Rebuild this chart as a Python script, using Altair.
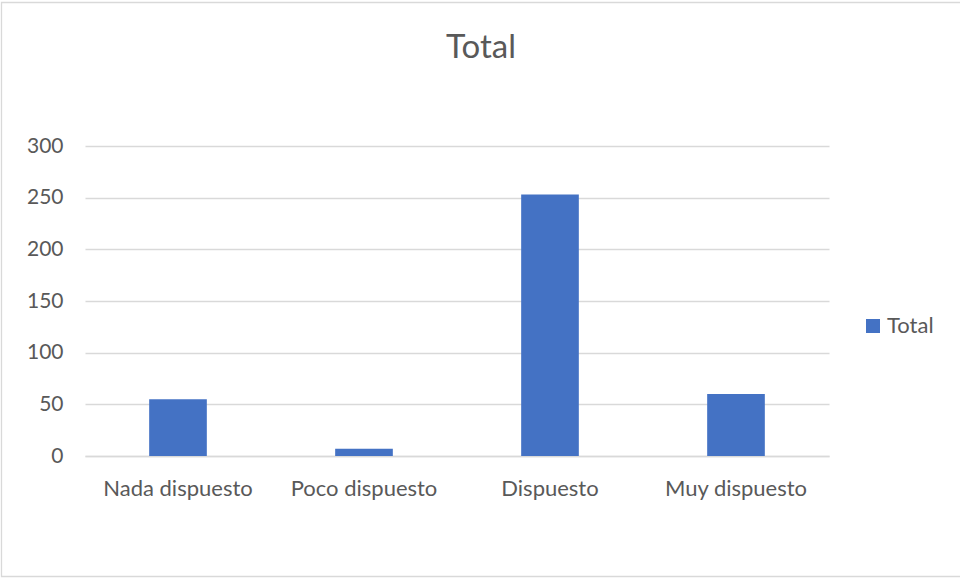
import altair as alt
import pandas as pd

# Willingness categories and their totals
categories = ["Nada dispuesto", "Poco dispuesto", "Dispuesto", "Muy dispuesto"]
totals = [55, 7, 253, 60]
series_name = "Total"
chart_title = "Total"
y_ticks = [0, 50, 100, 150, 200, 250, 300]

BAR = "#4472C4"
GRID = "#D9D9D9"
TEXT = "#595959"
FONT = "Lato"

df = pd.DataFrame({"cat": categories, "value": totals, "serie": [series_name] * len(categories)})

W, H = 744, 310
PAD_L, PAD_T = 85, 146

bars = alt.Chart(df).mark_bar(color=BAR).encode(
    x=alt.X(
        "cat:N",
        sort=categories,
        title=None,
        scale=alt.Scale(paddingInner=0.69, paddingOuter=0.345),
        axis=alt.Axis(
            labelAngle=0,
            labelFontSize=22,
            labelColor=TEXT,
            labelFont=FONT,
            labelPadding=22,
            ticks=False,
            domainColor=GRID,
            domainWidth=1.3,
            grid=False,
        ),
    ),
    y=alt.Y(
        "value:Q",
        title=None,
        scale=alt.Scale(domain=[0, 300], nice=False),
        axis=alt.Axis(
            values=y_ticks,
            labelFontSize=21,
            labelColor=TEXT,
            labelFont=FONT,
            labelPadding=22,
            ticks=False,
            domain=False,
            gridColor=GRID,
            gridWidth=1.3,
        ),
    ),
    color=alt.Color(
        "serie:N",
        scale=alt.Scale(range=[BAR]),
        legend=alt.Legend(
            title=None,
            orient="none",
            legendX=777,
            legendY=169,
            symbolType="square",
            symbolSize=196,
            symbolStrokeWidth=0,
            labelFontSize=22,
            labelColor=TEXT,
            labelFont=FONT,
            labelOffset=3,
        ),
    ),
)

# Chart heading, centred on the full canvas
heading = alt.Chart(pd.DataFrame({"t": [chart_title]})).mark_text(
    font=FONT, fontSize=33, color=TEXT, align="center", baseline="alphabetic"
).encode(
    text="t:N",
    x=alt.value(481 - PAD_L),
    y=alt.value(58 - PAD_T),
)

# Light frame around the whole chart
frame = alt.Chart(pd.DataFrame({"f": [0]})).mark_rect(
    fill=None, stroke=GRID, strokeWidth=1.3
).encode(
    x=alt.value(1.5 - PAD_L),
    x2=alt.value(962 - PAD_L),
    y=alt.value(2.5 - PAD_T),
    y2=alt.value(576.5 - PAD_T),
)

chart = alt.layer(frame, heading, bars).properties(
    width=W,
    height=H,
    background="white",
    autosize=alt.AutoSizeParams(type="none"),
    padding={"left": PAD_L, "top": PAD_T, "right": 960 - PAD_L - W, "bottom": 578 - PAD_T - H},
).configure_view(strokeWidth=0, stroke="transparent")

chart.save("out.html", embed_options={"renderer": "svg", "actions": False})
